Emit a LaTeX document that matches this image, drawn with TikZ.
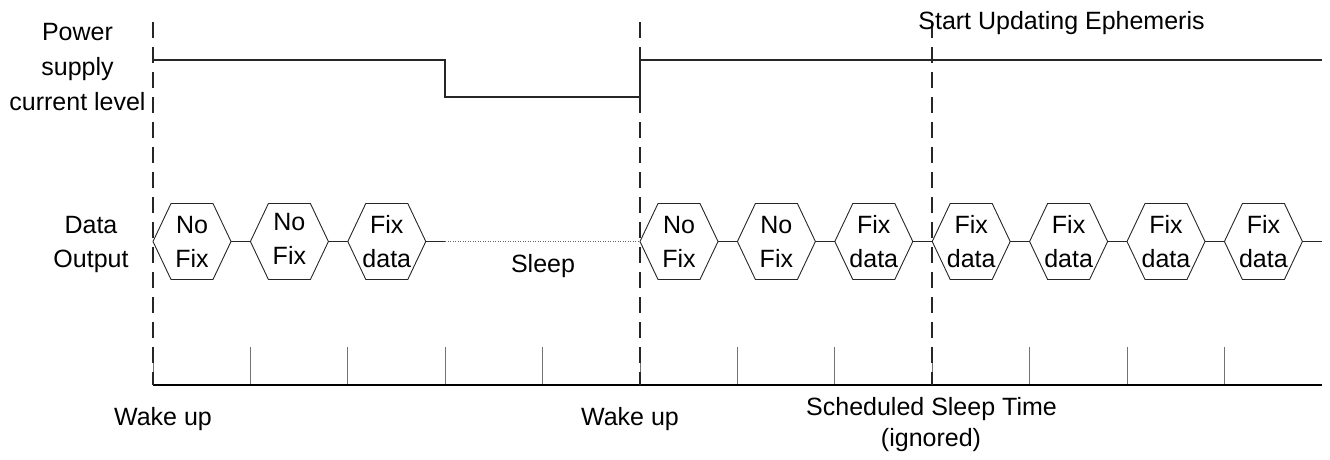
\documentclass[tikz,border=0pt]{standalone}
\usepackage{fontspec}
\setmainfont{Liberation Sans}
\begin{document}
\begin{tikzpicture}[x=1pt,y=-1pt,
  txt/.style={font=\fontsize{25}{34}\selectfont, inner sep=0pt, outer sep=0pt, anchor=base},
  hexframe/.style={minimum width=78pt, minimum height=76pt, inner sep=0pt, outer sep=0pt},
  hexline/.style={draw=black!85, line width=0.9pt},
  wire/.style={black!85, line width=1pt},
  power/.style={black!85, line width=1.6pt},
  marker/.style={black!85, line width=1.8pt, dash pattern=on 16pt off 9pt},
  tickline/.style={black!55, line width=1pt},
  axisline/.style={black, line width=1.5pt},
  sleepline/.style={black!60, line width=0.8pt, dash pattern=on 1pt off 1.5pt}]
\useasboundingbox (0,0) rectangle (1330,459);

% ticks and axis
\foreach \k in {0,...,11}{
  \draw[tickline] ({153+97.4*\k},347) -- ({153+97.4*\k},385);
}
\coordinate (ax0) at (153,385);
\coordinate (ax1) at (1322,385);
\draw[axisline] (ax0) -- (ax1);

% dashed markers
\coordinate (m1t) at (153,22);   \coordinate (m1b) at (153,385);
\coordinate (m2t) at (640,22);   \coordinate (m2b) at (640,385);
\coordinate (m3t) at (932.2,22); \coordinate (m3b) at (932.2,385);
\draw[marker] (m1t) -- (m1b);
\draw[marker] (m2t) -- (m2b);
\draw[marker] (m3t) -- (m3b);

% power supply level
\coordinate (p0) at (153,60);
\coordinate (p1) at (445,60);
\coordinate (p2) at (445,97);
\coordinate (p3) at (640,97);
\coordinate (p4) at (640,60);
\coordinate (p5) at (1322,60);
\draw[power] (p0) -- (p1) -- (p2) -- (p3) -- (p4) -- (p5);

% hexagons
\foreach \n/\k/\a/\b/\dy in {1/0/No/Fix/0, 2/1/No/Fix/-3, 3/2/Fix/data/0, 4/5/No/Fix/0, 5/6/No/Fix/0,
  6/7/Fix/data/0, 7/8/Fix/data/0, 8/9/Fix/data/0, 9/10/Fix/data/0, 10/11/Fix/data/0}{
  \pgfmathsetmacro\cx{192+97.4*\k}
  \pgfmathsetmacro\ya{233.3+\dy}
  \pgfmathsetmacro\yb{267.3+\dy}
  \node[hexframe] (h\n) at (\cx,241.5) {};
  \draw[hexline] (h\n.west) -- ([xshift=18pt]h\n.north west) -- ([xshift=-18pt]h\n.north east)
    -- (h\n.east) -- ([xshift=-18pt]h\n.south east) -- ([xshift=18pt]h\n.south west) -- cycle;
  \node[txt] (h\n a) at (\cx,\ya) {\a};
  \node[txt] (h\n b) at (\cx,\yb) {\b};
}

% connectors
\coordinate (s1) at (445,241.5);
\coordinate (e1) at (1322,241.5);
\draw[wire] (h1.east) -- (h2.west);
\draw[wire] (h2.east) -- (h3.west);
\draw[wire] (h3.east) -- (s1);
\draw[sleepline] (s1) -- (h4.west);
\draw[wire] (h4.east) -- (h5.west);
\draw[wire] (h5.east) -- (h6.west);
\draw[wire] (h6.east) -- (h7.west);
\draw[wire] (h7.east) -- (h8.west);
\draw[wire] (h8.east) -- (h9.west);
\draw[wire] (h9.east) -- (h10.west);
\draw[wire] (h10.east) -- (e1);

% labels
\node[txt] (l1) at (77.5,40.7) {Power};
\node[txt] (l2) at (77.5,75) {supply};
\node[txt] (l3) at (77.5,110) {current level};
\node[txt] (l4) at (91,233.3) {Data};
\node[txt] (l5) at (91,267.3) {Output};
\node[txt] (l6) at (1061.5,29.3) {Start Updating Ephemeris};
\node[txt] (l7) at (543,272.7) {Sleep};
\node[txt] (l8) at (163,425) {Wake up};
\node[txt] (l9) at (630,425) {Wake up};
\node[txt] (l10) at (931.5,415) {Scheduled Sleep Time};
\node[txt] (l11) at (931,446) {(ignored)};
\end{tikzpicture}
\end{document}
